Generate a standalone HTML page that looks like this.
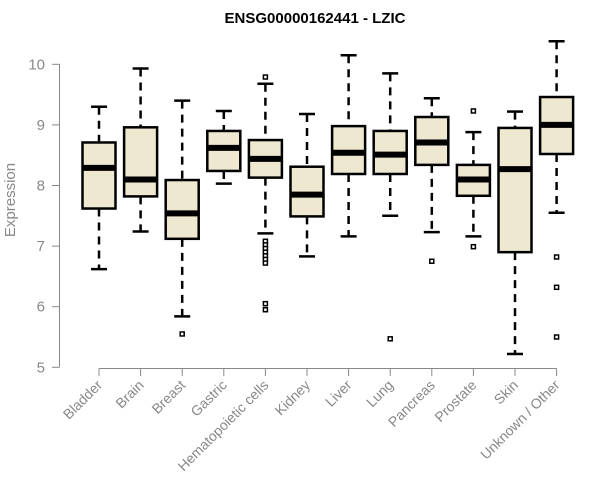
<!DOCTYPE html>
<html><head><meta charset="utf-8"><style>
body{margin:0;background:#fff;}
svg{display:block;font-family:"Liberation Sans",Arial,sans-serif;}
</style></head><body>
<svg id="chart" width="600" height="500">
<text x="315" y="23" text-anchor="middle" font-size="15" font-weight="bold">ENSG00000162441 - LZIC</text>
<text transform="translate(15,200) rotate(-90)" text-anchor="middle" font-size="15" fill="#888">Expression</text>
<g id="axes"></g><g id="boxes"></g>
</svg>
<script>
const categories=["Bladder","Brain","Breast","Gastric","Hematopoietic cells","Kidney","Liver","Lung","Pancreas","Prostate","Skin","Unknown / Other"];
const whiskerLow=[6.62,7.24,5.84,8.03,7.21,6.83,7.16,7.50,7.23,7.16,5.22,7.55];
const q1=[7.62,7.82,7.12,8.24,8.13,7.49,8.19,8.19,8.34,7.83,6.90,8.52];
const medians=[8.29,8.10,7.54,8.62,8.44,7.85,8.54,8.51,8.71,8.10,8.27,9.00];
const q3=[8.71,8.96,8.09,8.90,8.75,8.31,8.98,8.90,9.13,8.34,8.95,9.46];
const whiskerHigh=[9.30,9.93,9.40,9.23,9.68,9.18,10.15,9.85,9.44,8.88,9.22,10.38];
const outliers=[[],[],[5.55],[],[9.79,7.08,7.02,6.96,6.9,6.84,6.78,6.72,6.05,5.95],[],[],[5.47],[6.75],[9.23,6.99],[],[6.82,6.32,5.50]];
const yTicks=[5,6,7,8,9,10];
const NS="http://www.w3.org/2000/svg";
const y=v=>367.3-(v-5)*60.6;
const x=i=>99+i*41.6;
const axes=document.getElementById('axes'),boxes=document.getElementById('boxes');
function mk(tag,attrs,parent){const e=document.createElementNS(NS,tag);for(const k in attrs)e.setAttribute(k,attrs[k]);parent.appendChild(e);return e;}
let yl=mk('line',{x1:59.5,x2:59.5,y1:y(10),y2:y(5),stroke:'#888'},axes);


yTicks.forEach(t=>{
 let l=mk('line',{x1:52,x2:59.5,y1:y(t),y2:y(t),stroke:'#888'},axes);
 
 
 let tx=mk('text',{x:45,y:y(t)+5,'text-anchor':'end','font-size':15,fill:'#888'},axes);
 tx.textContent=t;
 
 
});
let xl=mk('line',{x1:x(0),x2:x(categories.length-1),y1:368.5,y2:368.5,stroke:'#888'},axes);


categories.forEach((c,i)=>{
 const cx=x(i);
 let l=mk('line',{x1:cx,x2:cx,y1:368.5,y2:376,stroke:'#888'},axes);
 
 
 let tx=mk('text',{x:0,y:0,'text-anchor':'end','font-size':14,fill:'#888',transform:`translate(${cx+4},${386}) rotate(-45)`},axes);
 tx.textContent=c;
 
 
 const g=mk('g',{},boxes);
 
 
 mk('line',{x1:cx,x2:cx,y1:y(whiskerHigh[i]),y2:y(q3[i]),stroke:'#000','stroke-width':2.5,'stroke-dasharray':'8,6'},g);
 mk('line',{x1:cx,x2:cx,y1:y(q1[i]),y2:y(whiskerLow[i]),stroke:'#000','stroke-width':2.5,'stroke-dasharray':'8,6'},g);
 mk('line',{x1:cx-8,x2:cx+8,y1:y(whiskerHigh[i]),y2:y(whiskerHigh[i]),stroke:'#000','stroke-width':2.5},g);
 mk('line',{x1:cx-8,x2:cx+8,y1:y(whiskerLow[i]),y2:y(whiskerLow[i]),stroke:'#000','stroke-width':2.5},g);
 mk('rect',{x:cx-16.5,y:y(q3[i]),width:33,height:y(q1[i])-y(q3[i]),fill:'#ede8cf',stroke:'#000','stroke-width':2.5},g);
 mk('line',{x1:cx-16.5,x2:cx+16.5,y1:y(medians[i]),y2:y(medians[i]),stroke:'#000','stroke-width':6},g);
 outliers[i].forEach(o=>{mk('rect',{x:cx-2,y:y(o)-2,width:4,height:4,fill:'#fff',stroke:'#000','stroke-width':1.5},g);});
});
</script>
</body></html>
